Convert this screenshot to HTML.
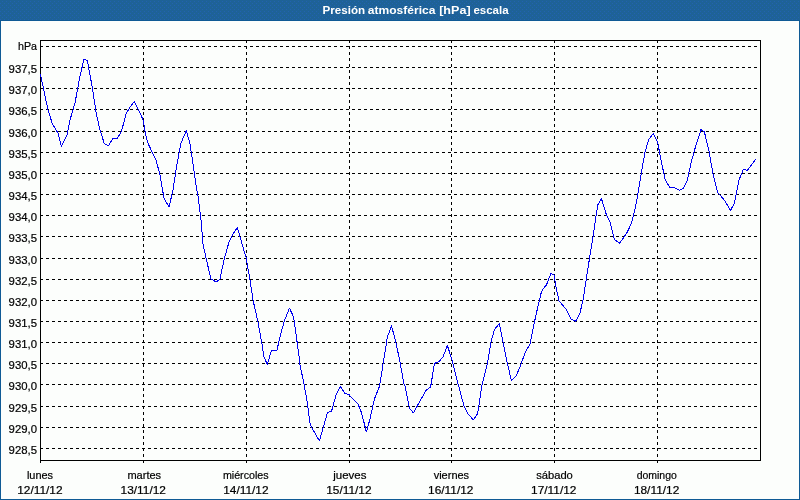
<!DOCTYPE html>
<html lang="es"><head><meta charset="utf-8"><title>Presión atmosférica [hPa] escala</title>
<style>
html,body{margin:0;padding:0;background:#fcfefc;}
body{width:800px;height:500px;overflow:hidden;position:relative;font-family:"Liberation Sans",sans-serif;}
svg{display:block;position:absolute;left:0;top:0;}
svg text{font-family:"Liberation Sans",sans-serif;font-size:11px;fill:#000;stroke:#000;stroke-width:0.2px;}
.g{stroke:#000;stroke-width:1;stroke-dasharray:3 3;fill:none;shape-rendering:crispEdges;}
.b{stroke:#000;stroke-width:1;fill:none;shape-rendering:crispEdges;}
.c{stroke:#0000f0;stroke-width:1;fill:none;shape-rendering:crispEdges;stroke-linejoin:round;}
.t{font-weight:bold;fill:#fff !important;stroke:none !important;font-size:11.5px !important;}
</style></head><body>
<svg width="800" height="500" viewBox="0 0 800 500">
<rect x="0" y="0" width="800" height="500" fill="#fcfefc"/>
<defs><pattern id="dz" width="4" height="4" patternUnits="userSpaceOnUse"><rect width="4" height="4" fill="#1e6297"/><rect x="2" y="1" width="1" height="1" fill="#2262b0"/><rect x="0" y="3" width="1" height="1" fill="#2262b0"/></pattern></defs>
<rect x="0" y="0" width="800" height="20" fill="url(#dz)" shape-rendering="crispEdges"/>
<rect x="0" y="20" width="800" height="1" fill="#0f5a95"/>
<rect x="0" y="20" width="1" height="480" fill="#0f5a95"/>
<rect x="799" y="20" width="1" height="480" fill="#0f5a95"/>
<rect x="0" y="499" width="800" height="1" fill="#0f5a95"/>
<text class="t" y="13.5"><tspan x="322.6" textLength="42.6" lengthAdjust="spacingAndGlyphs">Presión</tspan> <tspan x="367.8" textLength="67.6" lengthAdjust="spacingAndGlyphs">atmosférica</tspan> <tspan x="439.2" textLength="31.4" lengthAdjust="spacingAndGlyphs">[hPa]</tspan> <tspan x="473.4" textLength="35.2" lengthAdjust="spacingAndGlyphs">escala</tspan></text>

<line class="g" x1="40" y1="46.5" x2="760" y2="46.5"/>
<text x="37" y="50" text-anchor="end" textLength="19" lengthAdjust="spacingAndGlyphs">hPa</text>
<line class="g" x1="40" y1="67.5" x2="760" y2="67.5"/>
<text x="37" y="72.5" text-anchor="end" textLength="28.4" lengthAdjust="spacingAndGlyphs">937,5</text>
<line class="g" x1="40" y1="88.5" x2="760" y2="88.5"/>
<text x="37" y="93.5" text-anchor="end" textLength="28.4" lengthAdjust="spacingAndGlyphs">937,0</text>
<line class="g" x1="40" y1="109.5" x2="760" y2="109.5"/>
<text x="37" y="114.5" text-anchor="end" textLength="28.4" lengthAdjust="spacingAndGlyphs">936,5</text>
<line class="g" x1="40" y1="131.5" x2="760" y2="131.5"/>
<text x="37" y="136.5" text-anchor="end" textLength="28.4" lengthAdjust="spacingAndGlyphs">936,0</text>
<line class="g" x1="40" y1="152.5" x2="760" y2="152.5"/>
<text x="37" y="157.5" text-anchor="end" textLength="28.4" lengthAdjust="spacingAndGlyphs">935,5</text>
<line class="g" x1="40" y1="173.5" x2="760" y2="173.5"/>
<text x="37" y="178.5" text-anchor="end" textLength="28.4" lengthAdjust="spacingAndGlyphs">935,0</text>
<line class="g" x1="40" y1="194.5" x2="760" y2="194.5"/>
<text x="37" y="199.5" text-anchor="end" textLength="28.4" lengthAdjust="spacingAndGlyphs">934,5</text>
<line class="g" x1="40" y1="215.5" x2="760" y2="215.5"/>
<text x="37" y="220.5" text-anchor="end" textLength="28.4" lengthAdjust="spacingAndGlyphs">934,0</text>
<line class="g" x1="40" y1="236.5" x2="760" y2="236.5"/>
<text x="37" y="241.5" text-anchor="end" textLength="28.4" lengthAdjust="spacingAndGlyphs">933,5</text>
<line class="g" x1="40" y1="258.5" x2="760" y2="258.5"/>
<text x="37" y="263.5" text-anchor="end" textLength="28.4" lengthAdjust="spacingAndGlyphs">933,0</text>
<line class="g" x1="40" y1="279.5" x2="760" y2="279.5"/>
<text x="37" y="284.5" text-anchor="end" textLength="28.4" lengthAdjust="spacingAndGlyphs">932,5</text>
<line class="g" x1="40" y1="300.5" x2="760" y2="300.5"/>
<text x="37" y="305.5" text-anchor="end" textLength="28.4" lengthAdjust="spacingAndGlyphs">932,0</text>
<line class="g" x1="40" y1="321.5" x2="760" y2="321.5"/>
<text x="37" y="326.5" text-anchor="end" textLength="28.4" lengthAdjust="spacingAndGlyphs">931,5</text>
<line class="g" x1="40" y1="342.5" x2="760" y2="342.5"/>
<text x="37" y="347.5" text-anchor="end" textLength="28.4" lengthAdjust="spacingAndGlyphs">931,0</text>
<line class="g" x1="40" y1="363.5" x2="760" y2="363.5"/>
<text x="37" y="368.5" text-anchor="end" textLength="28.4" lengthAdjust="spacingAndGlyphs">930,5</text>
<line class="g" x1="40" y1="384.5" x2="760" y2="384.5"/>
<text x="37" y="389.5" text-anchor="end" textLength="28.4" lengthAdjust="spacingAndGlyphs">930,0</text>
<line class="g" x1="40" y1="406.5" x2="760" y2="406.5"/>
<text x="37" y="411.5" text-anchor="end" textLength="28.4" lengthAdjust="spacingAndGlyphs">929,5</text>
<line class="g" x1="40" y1="427.5" x2="760" y2="427.5"/>
<text x="37" y="432.5" text-anchor="end" textLength="28.4" lengthAdjust="spacingAndGlyphs">929,0</text>
<line class="g" x1="40" y1="448.5" x2="760" y2="448.5"/>
<text x="37" y="453.5" text-anchor="end" textLength="28.4" lengthAdjust="spacingAndGlyphs">928,5</text>
<line class="g" x1="143.5" y1="40" x2="143.5" y2="460"/>
<line class="g" x1="246.5" y1="40" x2="246.5" y2="460"/>
<line class="g" x1="349.5" y1="40" x2="349.5" y2="460"/>
<line class="g" x1="451.5" y1="40" x2="451.5" y2="460"/>
<line class="g" x1="554.5" y1="40" x2="554.5" y2="460"/>
<line class="g" x1="657.5" y1="40" x2="657.5" y2="460"/>
<line class="b" x1="40.5" y1="460" x2="40.5" y2="463"/>
<text x="40.0" y="479" text-anchor="middle" textLength="26.2" lengthAdjust="spacingAndGlyphs">lunes</text>
<text x="39.9" y="494" text-anchor="middle" textLength="45.4" lengthAdjust="spacingAndGlyphs">12/11/12</text>
<line class="b" x1="143.5" y1="460" x2="143.5" y2="463"/>
<text x="144.25" y="479" text-anchor="middle" textLength="33.7" lengthAdjust="spacingAndGlyphs">martes</text>
<text x="143.25" y="494" text-anchor="middle" textLength="45.4" lengthAdjust="spacingAndGlyphs">13/11/12</text>
<line class="b" x1="246.5" y1="460" x2="246.5" y2="463"/>
<text x="245.75" y="479" text-anchor="middle" textLength="45.7" lengthAdjust="spacingAndGlyphs">miércoles</text>
<text x="245.9" y="494" text-anchor="middle" textLength="45.4" lengthAdjust="spacingAndGlyphs">14/11/12</text>
<line class="b" x1="349.5" y1="460" x2="349.5" y2="463"/>
<text x="349.9" y="479" text-anchor="middle" textLength="33.2" lengthAdjust="spacingAndGlyphs">jueves</text>
<text x="348.9" y="494" text-anchor="middle" textLength="45.4" lengthAdjust="spacingAndGlyphs">15/11/12</text>
<line class="b" x1="451.5" y1="460" x2="451.5" y2="463"/>
<text x="451.4" y="479" text-anchor="middle" textLength="35.45" lengthAdjust="spacingAndGlyphs">viernes</text>
<text x="450.75" y="494" text-anchor="middle" textLength="45.4" lengthAdjust="spacingAndGlyphs">16/11/12</text>
<line class="b" x1="554.5" y1="460" x2="554.5" y2="463"/>
<text x="554.5" y="479" text-anchor="middle" textLength="36.7" lengthAdjust="spacingAndGlyphs">sábado</text>
<text x="553.75" y="494" text-anchor="middle" textLength="45.4" lengthAdjust="spacingAndGlyphs">17/11/12</text>
<line class="b" x1="657.5" y1="460" x2="657.5" y2="463"/>
<text x="656.75" y="479" text-anchor="middle" textLength="40.2" lengthAdjust="spacingAndGlyphs">domingo</text>
<text x="656.6" y="494" text-anchor="middle" textLength="45.4" lengthAdjust="spacingAndGlyphs">18/11/12</text>
<rect class="b" x="40.5" y="40.5" width="720" height="420"/>
<polyline class="c" points="40.5,74.5 48,110 52.4,124 58,133 61.4,146.4 67,135 70,120 75,103 80,76 84,59 87.4,61 92.4,88 96,112 100,130 104.3,143.6 108.6,145.6 113,138.4 117,139 121.6,131 126,114 130,107 134.4,101.6 139,111 143,119.6 145,131 147.4,142 151.4,150.5 155.8,159.5 159.8,174 162.4,189 164,198 169,207 173,190 177,164 181,143 186.4,130.6 190,144 193,164 196.6,189 198,196 201,220 203,244 206,258 211,279 216.4,282 220,279 224,260 229,242 233,234 237.4,227.4 242,244 246,257 250,280 253,300 258,322 262,344 264,357 267.4,364.4 271.4,350.5 277,350 280,337 284,322 289.4,308 293.6,317 296,334 299.4,359 300,365 304,384 307,401 310.3,425 319.4,441 324,425 327.4,412.6 331.6,411 336,395 340.6,386.4 344.4,393 349,394.6 353,399 358,404 361.6,413 366.4,432 370,419 374.4,399 379.4,386.5 383,364.5 387.4,337 391.6,326 396,343 400,362 404,384 405,386 409.4,408 413.4,413 420,401 426,390.5 430.6,387 434.5,363.5 439,361.5 443,357 447.4,345.6 451.4,358 455.7,375 460,391 464,406 467.4,413 473.4,420 477.4,414 479,405 481.4,388 485,373 487.4,364 491,342 494.4,329.5 499.4,323.6 503,342 507,362 511.4,380.4 516,376 520,367 525,353 530,344 534,324 538,306 541,293.5 543,289 546.4,285 551,273.4 554,275 556,287 559,301 566,309 571,319 575.6,321.4 580,313 583,300 586,281 589.4,259 593,237 597.7,205 601.4,198.4 606,213.5 610,222 614.3,239.2 619.4,243.4 624,237 627.1,232.5 631.4,223.5 635.7,206 637,199 641,175 645,152 649,139 653.4,133.4 657.6,142 661,160 665,179 670,188 674,187.4 679.6,190.4 683.6,188 687.4,180 691,163 696,145 701,129.6 704.4,132 709,151 713,174 717.4,192 725,201 730.4,210.6 734.4,203 739,180 743.4,169.4 747.4,170.4 755.6,159.4"/>
</svg></body></html>
